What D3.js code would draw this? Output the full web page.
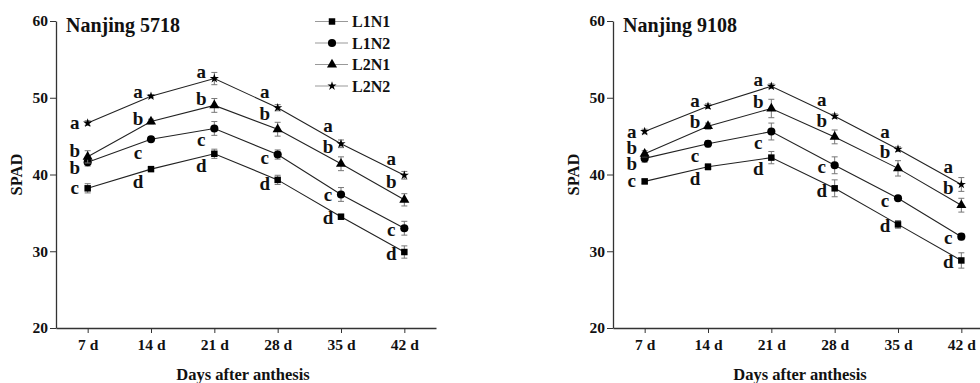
<!DOCTYPE html>
<html>
<head>
<meta charset="utf-8">
<script src="https://cdn.jsdelivr.net/npm/d3@7"></script>
<style>
  body { margin: 0; background: #fff; }
  svg { display: block; }
</style>
</head>
<body>
<div id="chart"></div>
<script>
// categorias del eje x
const days = ["7 d", "14 d", "21 d", "28 d", "35 d", "42 d"];
const seriesNames = ["L1N1", "L1N2", "L2N1", "L2N2"];
const yTicks = [20, 30, 40, 50, 60];

// Nanjing 5718
const nj5718_L1N1 = [38.2, 40.7, 42.7, 39.3, 34.5, 29.9];
const nj5718_L1N2 = [41.6, 44.6, 46.0, 42.6, 37.4, 33.0];
const nj5718_L2N1 = [42.3, 46.9, 49.0, 45.9, 41.4, 36.7];
const nj5718_L2N2 = [46.7, 50.2, 52.5, 48.7, 44.0, 39.9];
const nj5718_err = [
  [0.6, 0.3, 0.6, 0.6, 0.3, 0.8],
  [0.5, 0.3, 0.9, 0.6, 0.9, 0.9],
  [0.8, 0.3, 0.9, 0.9, 0.9, 0.8],
  [0.3, 0.2, 0.8, 0.4, 0.5, 0.5]
];
const nj5718_letters = [
  ["c", "d", "d", "d", "d", "d"],
  ["b", "c", "c", "c", "c", "c"],
  ["b", "b", "b", "b", "b", "b"],
  ["a", "a", "a", "a", "a", "a"]
];

// Nanjing 9108
const nj9108_L1N1 = [39.1, 41.0, 42.2, 38.2, 33.5, 28.8];
const nj9108_L1N2 = [42.1, 44.0, 45.6, 41.2, 36.9, 31.9];
const nj9108_L2N1 = [42.7, 46.3, 48.6, 44.9, 40.8, 36.0];
const nj9108_L2N2 = [45.6, 48.9, 51.5, 47.6, 43.3, 38.7];
const nj9108_err = [
  [0.3, 0.4, 0.8, 1.1, 0.5, 1.0],
  [0.5, 0.4, 1.1, 1.1, 0.3, 0.4],
  [0.4, 0.4, 1.2, 0.9, 1.0, 0.9],
  [0.3, 0.3, 0.3, 0.3, 0.3, 0.9]
];
const nj9108_letters = [
  ["c", "d", "d", "d", "d", "d"],
  ["b", "c", "c", "c", "c", "c"],
  ["b", "b", "b", "b", "b", "b"],
  ["a", "a", "a", "a", "a", "a"]
];

const panels = [
  { title: "Nanjing 5718", values: [nj5718_L1N1, nj5718_L1N2, nj5718_L2N1, nj5718_L2N2], err: nj5718_err, letters: nj5718_letters, left: 56, legend: true },
  { title: "Nanjing 9108", values: [nj9108_L1N1, nj9108_L1N2, nj9108_L2N1, nj9108_L2N2], err: nj9108_err, letters: nj9108_letters, left: 613, legend: false }
];

const symbols = [d3.symbolSquare, d3.symbolCircle, d3.symbolTriangle, d3.symbolStar];
const symSizes = [42, 52, 44, 26];

const W = 980, H = 383;
const plotW = 380, plotTop = 21, plotBottom = 328;
const FONT = "'Liberation Serif', 'Times New Roman', 'DejaVu Serif', serif";

const svg = d3.select("#chart").append("svg")
  .attr("width", W).attr("height", H)
  .attr("font-family", FONT)
  .attr("font-weight", "bold");

const y = d3.scaleLinear().domain([20, 60]).range([plotBottom, plotTop]);

function styleAxis(a) {
  a.attr("font-family", FONT).attr("font-size", 15.5).attr("font-weight", "bold");
  a.select(".domain").attr("stroke", "#333").attr("stroke-width", 1.3);
  a.selectAll(".tick line").attr("stroke", "#333");
  a.selectAll("text").attr("fill", "#111");
}

panels.forEach(p => {
  const g = svg.append("g").attr("transform", "translate(" + p.left + ",0)");
  const x = d3.scalePoint().domain(days).range([0, plotW]).padding(0.5);

  // ejes
  g.append("g")
    .attr("transform", "translate(0," + plotBottom + ")")
    .call(d3.axisBottom(x).tickSize(5).tickPadding(6).tickSizeOuter(0))
    .call(styleAxis);

  g.append("g")
    .call(d3.axisLeft(y).tickValues(yTicks).tickSize(6).tickPadding(2).tickSizeOuter(0))
    .call(styleAxis);

  g.append("text")
    .attr("x", plotW / 2 - 3).attr("y", 380)
    .attr("text-anchor", "middle").attr("font-size", 16.5).attr("fill", "#111")
    .text("Days after anthesis");

  g.append("text")
    .attr("transform", "translate(-34," + ((plotTop + plotBottom) / 2) + ") rotate(-90)")
    .attr("text-anchor", "middle").attr("font-size", 16.5).attr("fill", "#111")
    .text("SPAD");

  g.append("text")
    .attr("x", 10).attr("y", 32)
    .attr("font-size", 20).attr("fill", "#111")
    .text(p.title);

  const line = d3.line().x((d, i) => x(days[i])).y(d => y(d));
  const step = x.step();

  // posiciones de las letras por columna
  const letterY = days.map(() => []);

  p.values.forEach((vals, s) => {
    g.append("path")
      .datum(vals)
      .attr("fill", "none").attr("stroke", "#222").attr("stroke-width", 1.1)
      .attr("d", line);

    // barras de error
    vals.forEach((v, i) => {
      const cx = x(days[i]);
      const e = p.err[s][i];
      const eg = g.append("g").attr("stroke", "#777").attr("stroke-width", 1);
      eg.append("line").attr("x1", cx).attr("x2", cx).attr("y1", y(v - e)).attr("y2", y(v + e));
      eg.append("line").attr("x1", cx - 3).attr("x2", cx + 3).attr("y1", y(v - e)).attr("y2", y(v - e));
      eg.append("line").attr("x1", cx - 3).attr("x2", cx + 3).attr("y1", y(v + e)).attr("y2", y(v + e));
    });

    g.selectAll(null)
      .data(vals)
      .enter().append("path")
      .attr("transform", (d, i) => "translate(" + x(days[i]) + "," + y(d) + ")")
      .attr("d", d3.symbol().type(symbols[s]).size(symSizes[s]))
      .attr("fill", "#000");

    const upper = s >= 2;
    vals.forEach((v, i) => {
      const cy = y(v);
      let ly;
      if (i === 0) {
        ly = cy + 1;
      } else {
        const py = y(vals[i - 1]);
        const lineY = cy + (py - cy) * 13 / step;
        ly = lineY + (upper ? -9 : 10);
      }
      letterY[i].push({ s: s, y: ly });
    });
  });

  // separar letras que se pisan
  letterY.forEach((col, i) => {
    col.sort((a, b) => a.y - b.y);
    for (let k = 1; k < col.length; k++) {
      const gap = col[k].y - col[k - 1].y;
      if (gap < 17) {
        const d = (17 - gap) / 2;
        col[k - 1].y -= d;
        col[k].y += d;
      }
    }
    col.forEach(c => {
      g.append("text")
        .attr("x", x(days[i]) - 13).attr("y", c.y + 5)
        .attr("text-anchor", "middle").attr("font-size", 19).attr("fill", "#111")
        .text(p.letters[c.s][i]);
    });
  });

  if (p.legend) {
    const lg = g.append("g").attr("transform", "translate(259,0)");
    seriesNames.forEach((n, s) => {
      const ly = 21.5 + s * 21.5;
      lg.append("line").attr("x1", 0).attr("x2", 33).attr("y1", ly).attr("y2", ly)
        .attr("stroke", "#999").attr("stroke-width", 1);
      lg.append("path")
        .attr("transform", "translate(17," + ly + ")")
        .attr("d", d3.symbol().type(symbols[s]).size(symSizes[s]))
        .attr("fill", "#000");
      lg.append("text").attr("x", 37).attr("y", ly + 5.5)
        .attr("font-size", 16).attr("fill", "#111").text(n);
    });
  }
});
</script>
</body>
</html>
